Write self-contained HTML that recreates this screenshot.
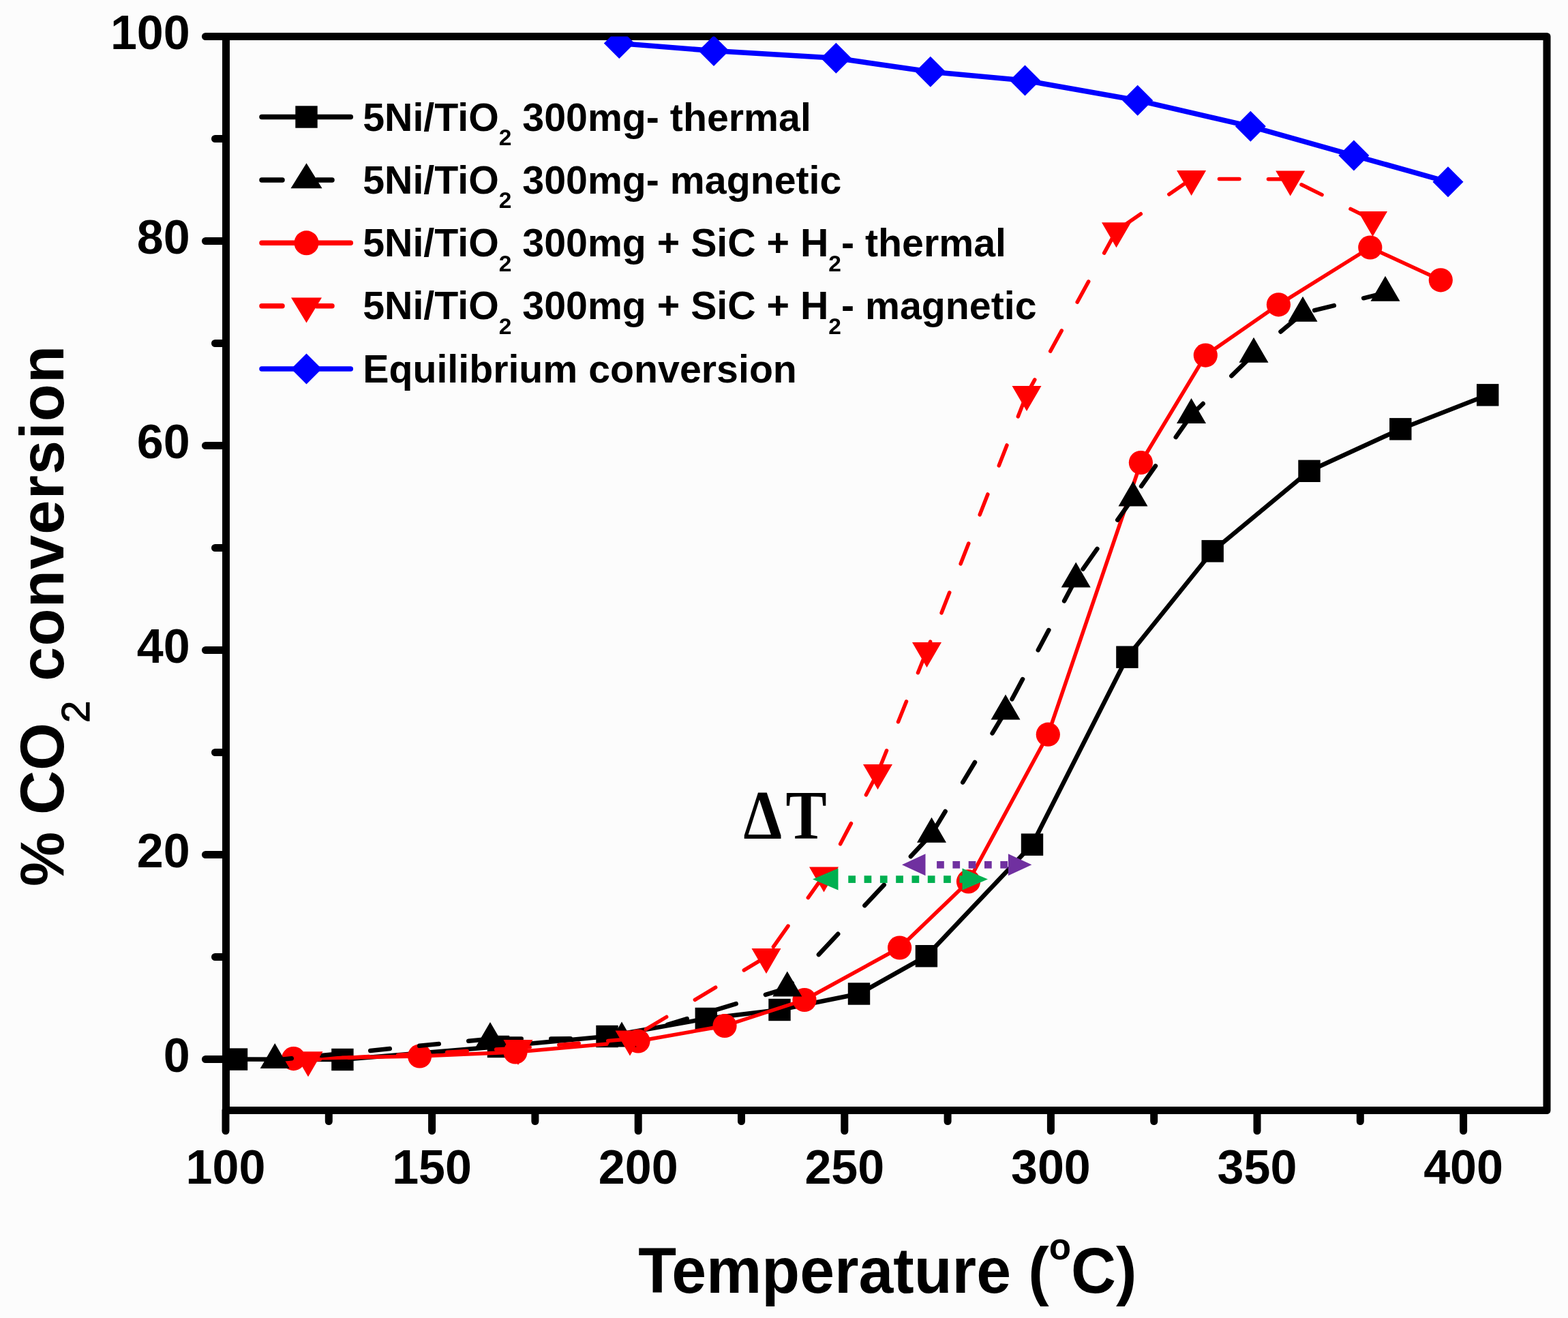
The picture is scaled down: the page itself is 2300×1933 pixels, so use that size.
<!DOCTYPE html>
<html><head><meta charset="utf-8"><title>CO2 conversion vs temperature</title>
<style>html,body{margin:0;padding:0;background:#fcfcfc;width:2300px;height:1933px;overflow:hidden;}svg{display:block;}</style>
</head><body>
<svg width="2300" height="1933" viewBox="0 0 2300 1933">
<rect width="2300" height="1933" fill="#fcfcfc"/>
<defs><clipPath id="pc"><rect x="331.5" y="53.5" width="1937.5" height="1575.0"/></clipPath></defs>
<rect x="331.5" y="53.5" width="1937.5" height="1575.0" fill="none" stroke="#000" stroke-width="11" stroke-linejoin="round"/>
<g stroke="#000" stroke-width="11" stroke-linecap="round"><line x1="331.0" y1="1628.5" x2="331.0" y2="1658.5"/><line x1="482.3" y1="1628.5" x2="482.3" y2="1644.5"/><line x1="633.6" y1="1628.5" x2="633.6" y2="1658.5"/><line x1="784.9" y1="1628.5" x2="784.9" y2="1644.5"/><line x1="936.2" y1="1628.5" x2="936.2" y2="1658.5"/><line x1="1087.5" y1="1628.5" x2="1087.5" y2="1644.5"/><line x1="1238.8" y1="1628.5" x2="1238.8" y2="1658.5"/><line x1="1390.1" y1="1628.5" x2="1390.1" y2="1644.5"/><line x1="1541.4" y1="1628.5" x2="1541.4" y2="1658.5"/><line x1="1692.7" y1="1628.5" x2="1692.7" y2="1644.5"/><line x1="1844.0" y1="1628.5" x2="1844.0" y2="1658.5"/><line x1="1995.3" y1="1628.5" x2="1995.3" y2="1644.5"/><line x1="2146.6" y1="1628.5" x2="2146.6" y2="1658.5"/><line x1="331.5" y1="1553.5" x2="301.5" y2="1553.5"/><line x1="331.5" y1="1403.5" x2="315.5" y2="1403.5"/><line x1="331.5" y1="1253.5" x2="301.5" y2="1253.5"/><line x1="331.5" y1="1103.5" x2="315.5" y2="1103.5"/><line x1="331.5" y1="953.5" x2="301.5" y2="953.5"/><line x1="331.5" y1="803.5" x2="315.5" y2="803.5"/><line x1="331.5" y1="653.5" x2="301.5" y2="653.5"/><line x1="331.5" y1="503.5" x2="315.5" y2="503.5"/><line x1="331.5" y1="353.5" x2="301.5" y2="353.5"/><line x1="331.5" y1="203.5" x2="315.5" y2="203.5"/><line x1="331.5" y1="53.5" x2="301.5" y2="53.5"/></g>
<g clip-path="url(#pc)" stroke-linejoin="round" fill="none">
<polyline points="347.0,1553.6 502.4,1554.0 731.0,1535.0 890.5,1520.0 1035.8,1494.0 1143.5,1481.0 1260.0,1457.5 1358.9,1402.2 1514.0,1238.7 1653.4,963.7 1778.7,808.3 1920.5,690.8 2054.3,629.3 2182.2,579.3" stroke="#000" stroke-width="6.5"/>
<rect x="330.8" y="1537.4" width="32.4" height="32.4" fill="#000"/>
<rect x="486.2" y="1537.8" width="32.4" height="32.4" fill="#000"/>
<rect x="714.8" y="1518.8" width="32.4" height="32.4" fill="#000"/>
<rect x="874.3" y="1503.8" width="32.4" height="32.4" fill="#000"/>
<rect x="1019.6" y="1477.8" width="32.4" height="32.4" fill="#000"/>
<rect x="1127.3" y="1464.8" width="32.4" height="32.4" fill="#000"/>
<rect x="1243.8" y="1441.3" width="32.4" height="32.4" fill="#000"/>
<rect x="1342.7" y="1386.0" width="32.4" height="32.4" fill="#000"/>
<rect x="1497.8" y="1222.5" width="32.4" height="32.4" fill="#000"/>
<rect x="1637.2" y="947.5" width="32.4" height="32.4" fill="#000"/>
<rect x="1762.5" y="792.1" width="32.4" height="32.4" fill="#000"/>
<rect x="1904.3" y="674.6" width="32.4" height="32.4" fill="#000"/>
<rect x="2038.1" y="613.1" width="32.4" height="32.4" fill="#000"/>
<rect x="2166.0" y="563.1" width="32.4" height="32.4" fill="#000"/>
<polyline points="430.6,1552.6 615.6,1549.0 756.0,1543.0 936.0,1527.0 1063.0,1504.5 1180.0,1466.5 1319.6,1390.0 1420.5,1292.9 1537.3,1077.2 1673.4,678.5 1768.3,521.1 1875.4,446.8 2009.8,363.0 2113.3,410.8" stroke="#ff0000" stroke-width="5.5"/>
<circle cx="430.6" cy="1552.6" r="17.6" fill="#ff0000"/>
<circle cx="615.6" cy="1549.0" r="17.6" fill="#ff0000"/>
<circle cx="756.0" cy="1543.0" r="17.6" fill="#ff0000"/>
<circle cx="936.0" cy="1527.0" r="17.6" fill="#ff0000"/>
<circle cx="1063.0" cy="1504.5" r="17.6" fill="#ff0000"/>
<circle cx="1180.0" cy="1466.5" r="17.6" fill="#ff0000"/>
<circle cx="1319.6" cy="1390.0" r="17.6" fill="#ff0000"/>
<circle cx="1420.5" cy="1292.9" r="17.6" fill="#ff0000"/>
<circle cx="1537.3" cy="1077.2" r="17.6" fill="#ff0000"/>
<circle cx="1673.4" cy="678.5" r="17.6" fill="#ff0000"/>
<circle cx="1768.3" cy="521.1" r="17.6" fill="#ff0000"/>
<circle cx="1875.4" cy="446.8" r="17.6" fill="#ff0000"/>
<circle cx="2009.8" cy="363.0" r="17.6" fill="#ff0000"/>
<circle cx="2113.3" cy="410.8" r="17.6" fill="#ff0000"/>
<g stroke="#000" stroke-width="6.5" stroke-linecap="round"><line x1="719.0" y1="1523.6" x2="403.2" y2="1554.7" stroke-dasharray="28.67 43.68" stroke-dashoffset="-3.25"/><line x1="912.0" y1="1523.2" x2="719.0" y2="1523.6" stroke-dasharray="28.50 43.50" stroke-dashoffset="-3.25"/><line x1="1154.8" y1="1449.2" x2="912.0" y2="1523.2" stroke-dasharray="30.09 45.18" stroke-dashoffset="-3.25"/><line x1="1366.5" y1="1223.4" x2="1154.8" y2="1449.2" stroke-dasharray="41.48 57.22" stroke-dashoffset="-3.25"/><line x1="1475.0" y1="1043.2" x2="1366.5" y2="1223.4" stroke-dasharray="34.35 49.69" stroke-dashoffset="-3.25"/><line x1="1578.2" y1="849.2" x2="1475.0" y2="1043.2" stroke-dasharray="33.14 48.41" stroke-dashoffset="-3.25"/><line x1="1662.0" y1="730.2" x2="1578.2" y2="849.2" stroke-dasharray="36.31 51.75" stroke-dashoffset="-3.25"/><line x1="1747.5" y1="608.7" x2="1662.0" y2="730.2" stroke-dasharray="36.30 51.74" stroke-dashoffset="-3.25"/><line x1="1839.0" y1="519.5" x2="1747.5" y2="608.7" stroke-dasharray="42.38 58.17" stroke-dashoffset="-3.25"/><line x1="1911.0" y1="459.4" x2="1839.0" y2="519.5" stroke-dasharray="39.09 54.70" stroke-dashoffset="-3.25"/><line x1="2032.0" y1="429.4" x2="1911.0" y2="459.4" stroke-dasharray="29.56 44.62" stroke-dashoffset="-3.25"/></g>
<polygon points="403.2,1530.0 424.7,1567.0 381.7,1567.0" fill="#000"/>
<polygon points="719.0,1498.9 740.5,1535.9 697.5,1535.9" fill="#000"/>
<polygon points="912.0,1498.5 933.5,1535.5 890.5,1535.5" fill="#000"/>
<polygon points="1154.8,1424.5 1176.3,1461.5 1133.3,1461.5" fill="#000"/>
<polygon points="1366.5,1198.7 1388.0,1235.7 1345.0,1235.7" fill="#000"/>
<polygon points="1475.0,1018.5 1496.5,1055.5 1453.5,1055.5" fill="#000"/>
<polygon points="1578.2,824.5 1599.7,861.5 1556.7,861.5" fill="#000"/>
<polygon points="1662.0,705.5 1683.5,742.5 1640.5,742.5" fill="#000"/>
<polygon points="1747.5,584.0 1769.0,621.0 1726.0,621.0" fill="#000"/>
<polygon points="1839.0,494.8 1860.5,531.8 1817.5,531.8" fill="#000"/>
<polygon points="1911.0,434.7 1932.5,471.7 1889.5,471.7" fill="#000"/>
<polygon points="2032.0,404.7 2053.5,441.7 2010.5,441.7" fill="#000"/>
<g stroke="#ff0000" stroke-width="5.5" stroke-linecap="round"><line x1="760.0" y1="1537.3" x2="452.0" y2="1554.6" stroke-dasharray="29.56 42.56" stroke-dashoffset="-2.75"/><line x1="924.0" y1="1523.8" x2="760.0" y2="1537.3" stroke-dasharray="29.62 42.63" stroke-dashoffset="-2.75"/><line x1="1124.0" y1="1403.3" x2="924.0" y2="1523.8" stroke-dasharray="35.36 48.70" stroke-dashoffset="-2.75"/><line x1="1208.5" y1="1283.8" x2="1124.0" y2="1403.3" stroke-dasharray="37.37 50.82" stroke-dashoffset="-2.75"/><line x1="1287.5" y1="1133.2" x2="1208.5" y2="1283.8" stroke-dasharray="34.02 47.28" stroke-dashoffset="-2.75"/><line x1="1359.5" y1="954.2" x2="1287.5" y2="1133.2" stroke-dasharray="32.23 45.38" stroke-dashoffset="-2.75"/><line x1="1506.0" y1="578.4" x2="1359.5" y2="954.2" stroke-dasharray="32.07 45.21" stroke-dashoffset="-2.75"/><line x1="1637.5" y1="338.5" x2="1506.0" y2="578.4" stroke-dasharray="34.41 47.69" stroke-dashoffset="-2.75"/><line x1="1747.6" y1="262.4" x2="1637.5" y2="338.5" stroke-dasharray="37.05 50.48" stroke-dashoffset="-2.75"/><line x1="1892.7" y1="262.8" x2="1747.6" y2="262.4" stroke-dasharray="29.50 42.50" stroke-dashoffset="-2.75"/><line x1="2013.5" y1="322.4" x2="1892.7" y2="262.8" stroke-dasharray="33.53 46.76" stroke-dashoffset="-2.75"/></g>
<polygon points="430.5,1542.3 473.5,1542.3 452.0,1579.3" fill="#ff0000"/>
<polygon points="738.5,1525.0 781.5,1525.0 760.0,1562.0" fill="#ff0000"/>
<polygon points="902.5,1511.5 945.5,1511.5 924.0,1548.5" fill="#ff0000"/>
<polygon points="1102.5,1391.0 1145.5,1391.0 1124.0,1428.0" fill="#ff0000"/>
<polygon points="1187.0,1271.5 1230.0,1271.5 1208.5,1308.5" fill="#ff0000"/>
<polygon points="1266.0,1120.9 1309.0,1120.9 1287.5,1157.9" fill="#ff0000"/>
<polygon points="1338.0,941.9 1381.0,941.9 1359.5,978.9" fill="#ff0000"/>
<polygon points="1484.5,566.1 1527.5,566.1 1506.0,603.1" fill="#ff0000"/>
<polygon points="1616.0,326.2 1659.0,326.2 1637.5,363.2" fill="#ff0000"/>
<polygon points="1726.1,250.1 1769.1,250.1 1747.6,287.1" fill="#ff0000"/>
<polygon points="1871.2,250.5 1914.2,250.5 1892.7,287.5" fill="#ff0000"/>
<polygon points="1992.0,310.1 2035.0,310.1 2013.5,347.1" fill="#ff0000"/>
<polyline points="908.3,63.5 1047.0,74.6 1226.4,85.3 1364.8,105.3 1503.5,118.0 1668.7,147.2 1834.3,185.3 1985.9,228.1 2124.0,266.8" stroke="#0000ff" stroke-width="7.5"/>
<polygon points="908.3,41.0 930.8,63.5 908.3,86.0 885.8,63.5" fill="#0000ff"/>
<polygon points="1047.0,52.1 1069.5,74.6 1047.0,97.1 1024.5,74.6" fill="#0000ff"/>
<polygon points="1226.4,62.8 1248.9,85.3 1226.4,107.8 1203.9,85.3" fill="#0000ff"/>
<polygon points="1364.8,82.8 1387.3,105.3 1364.8,127.8 1342.3,105.3" fill="#0000ff"/>
<polygon points="1503.5,95.5 1526.0,118.0 1503.5,140.5 1481.0,118.0" fill="#0000ff"/>
<polygon points="1668.7,124.7 1691.2,147.2 1668.7,169.7 1646.2,147.2" fill="#0000ff"/>
<polygon points="1834.3,162.8 1856.8,185.3 1834.3,207.8 1811.8,185.3" fill="#0000ff"/>
<polygon points="1985.9,205.6 2008.4,228.1 1985.9,250.6 1963.4,228.1" fill="#0000ff"/>
<polygon points="2124.0,244.3 2146.5,266.8 2124.0,289.3 2101.5,266.8" fill="#0000ff"/>
</g>
<rect x="1244.3" y="1284.25" width="10.7" height="10.7" fill="#00b050"/><rect x="1267.6" y="1284.25" width="10.7" height="10.7" fill="#00b050"/><rect x="1290.9" y="1284.25" width="10.7" height="10.7" fill="#00b050"/><rect x="1314.2" y="1284.25" width="10.7" height="10.7" fill="#00b050"/><rect x="1337.5" y="1284.25" width="10.7" height="10.7" fill="#00b050"/><rect x="1360.8" y="1284.25" width="10.7" height="10.7" fill="#00b050"/><rect x="1384.1" y="1284.25" width="10.7" height="10.7" fill="#00b050"/><rect x="1407.4" y="1284.25" width="10.7" height="10.7" fill="#00b050"/><polygon points="1192,1289.6 1229.5,1273.6 1229.5,1305.6" fill="#00b050"/><polygon points="1449,1289.6 1411.5,1273.6 1411.5,1305.6" fill="#00b050"/>
<rect x="1374.1" y="1262.95" width="10.7" height="10.7" fill="#7030a0"/><rect x="1397.4" y="1262.95" width="10.7" height="10.7" fill="#7030a0"/><rect x="1420.7" y="1262.95" width="10.7" height="10.7" fill="#7030a0"/><rect x="1444.0" y="1262.95" width="10.7" height="10.7" fill="#7030a0"/><rect x="1467.3" y="1262.95" width="10.7" height="10.7" fill="#7030a0"/><polygon points="1323,1268.3 1357.5,1252.3 1357.5,1284.3" fill="#7030a0"/><polygon points="1513.4,1268.3 1478.9,1252.3 1478.9,1284.3" fill="#7030a0"/>
<g font-family="&quot;Liberation Sans&quot;, Arial, sans-serif" font-weight="bold" font-size="70" fill="#000"><text x="331.0" y="1735.5" text-anchor="middle">100</text><text x="633.6" y="1735.5" text-anchor="middle">150</text><text x="936.2" y="1735.5" text-anchor="middle">200</text><text x="1238.8" y="1735.5" text-anchor="middle">250</text><text x="1541.4" y="1735.5" text-anchor="middle">300</text><text x="1844.0" y="1735.5" text-anchor="middle">350</text><text x="2146.6" y="1735.5" text-anchor="middle">400</text><text x="278.7" y="1572.2" text-anchor="end">0</text><text x="278.7" y="1272.2" text-anchor="end">20</text><text x="278.7" y="972.2" text-anchor="end">40</text><text x="278.7" y="672.2" text-anchor="end">60</text><text x="278.7" y="372.2" text-anchor="end">80</text><text x="278.7" y="72.2" text-anchor="end">100</text></g>
<text transform="translate(936.2,1895.8) scale(0.962,1)" font-family="&quot;Liberation Sans&quot;, Arial, sans-serif" font-weight="bold" font-size="95">Temperature (<tspan font-size="55" dy="-49">o</tspan><tspan dy="49">C)</tspan></text>
<text transform="translate(93.4,1300) rotate(-90)" font-family="&quot;Liberation Sans&quot;, Arial, sans-serif" font-weight="bold" font-size="90">% CO<tspan font-size="58" font-weight="normal" stroke="#000" stroke-width="1.1" dy="37.6">2</tspan><tspan dy="-37.6" dx="2.5" letter-spacing="1.3"> conversion</tspan></text>
<text transform="translate(1090.5,1229.5) scale(0.92,1.04)" font-family="&quot;Liberation Serif&quot;, &quot;Times New Roman&quot;, serif" font-weight="bold" font-size="98">Δ</text>
<text transform="translate(1152.5,1229.5) scale(0.92,1.04)" font-family="&quot;Liberation Serif&quot;, &quot;Times New Roman&quot;, serif" font-weight="bold" font-size="98">T</text>
<line x1="384" y1="171.5" x2="514.3" y2="171.5" stroke="#000" stroke-width="7.5" stroke-linecap="round"/><rect x="433.3" y="155.3" width="32.4" height="32.4" fill="#000"/><text transform="translate(532.2,191.7) scale(0.988,1)" font-family="&quot;Liberation Sans&quot;, Arial, sans-serif" font-weight="bold" font-size="58">5Ni/TiO<tspan font-size="34" dy="21.5">2</tspan><tspan dy="-21.5"> 300mg- thermal</tspan></text><line x1="384" y1="263.9" x2="414" y2="263.9" stroke="#000" stroke-width="7.5" stroke-linecap="round"/><line x1="464.5" y1="263.9" x2="487" y2="263.9" stroke="#000" stroke-width="7.5" stroke-linecap="round"/><polygon points="449.5,239.2 472.5,276.2 426.5,276.2" fill="#000"/><text transform="translate(532.2,283.9) scale(0.988,1)" font-family="&quot;Liberation Sans&quot;, Arial, sans-serif" font-weight="bold" font-size="58">5Ni/TiO<tspan font-size="34" dy="21.5">2</tspan><tspan dy="-21.5"> 300mg- magnetic</tspan></text><line x1="384" y1="356.3" x2="514.3" y2="356.3" stroke="#ff0000" stroke-width="7.5" stroke-linecap="round"/><circle cx="449.5" cy="356.3" r="18" fill="#ff0000"/><text transform="translate(532.2,376.1) scale(0.988,1)" font-family="&quot;Liberation Sans&quot;, Arial, sans-serif" font-weight="bold" font-size="58">5Ni/TiO<tspan font-size="34" dy="21.5">2</tspan><tspan dy="-21.5"> 300mg + SiC + H</tspan><tspan font-size="34" dy="21.5">2</tspan><tspan dy="-21.5">- thermal</tspan></text><line x1="384" y1="448.70000000000005" x2="414" y2="448.70000000000005" stroke="#ff0000" stroke-width="7.5" stroke-linecap="round"/><line x1="464.5" y1="448.70000000000005" x2="487" y2="448.70000000000005" stroke="#ff0000" stroke-width="7.5" stroke-linecap="round"/><polygon points="427.0,436.4 472.0,436.4 449.5,473.4" fill="#ff0000"/><text transform="translate(532.2,468.3) scale(0.988,1)" font-family="&quot;Liberation Sans&quot;, Arial, sans-serif" font-weight="bold" font-size="58">5Ni/TiO<tspan font-size="34" dy="21.5">2</tspan><tspan dy="-21.5"> 300mg + SiC + H</tspan><tspan font-size="34" dy="21.5">2</tspan><tspan dy="-21.5">- magnetic</tspan></text><line x1="384" y1="541.1" x2="514.3" y2="541.1" stroke="#0000ff" stroke-width="7.5" stroke-linecap="round"/><polygon points="449.5,518.6 472.0,541.1 449.5,563.6 427.0,541.1" fill="#0000ff"/><text transform="translate(532.2,560.5) scale(0.988,1)" font-family="&quot;Liberation Sans&quot;, Arial, sans-serif" font-weight="bold" font-size="58">Equilibrium conversion</text>
</svg>
</body></html>
